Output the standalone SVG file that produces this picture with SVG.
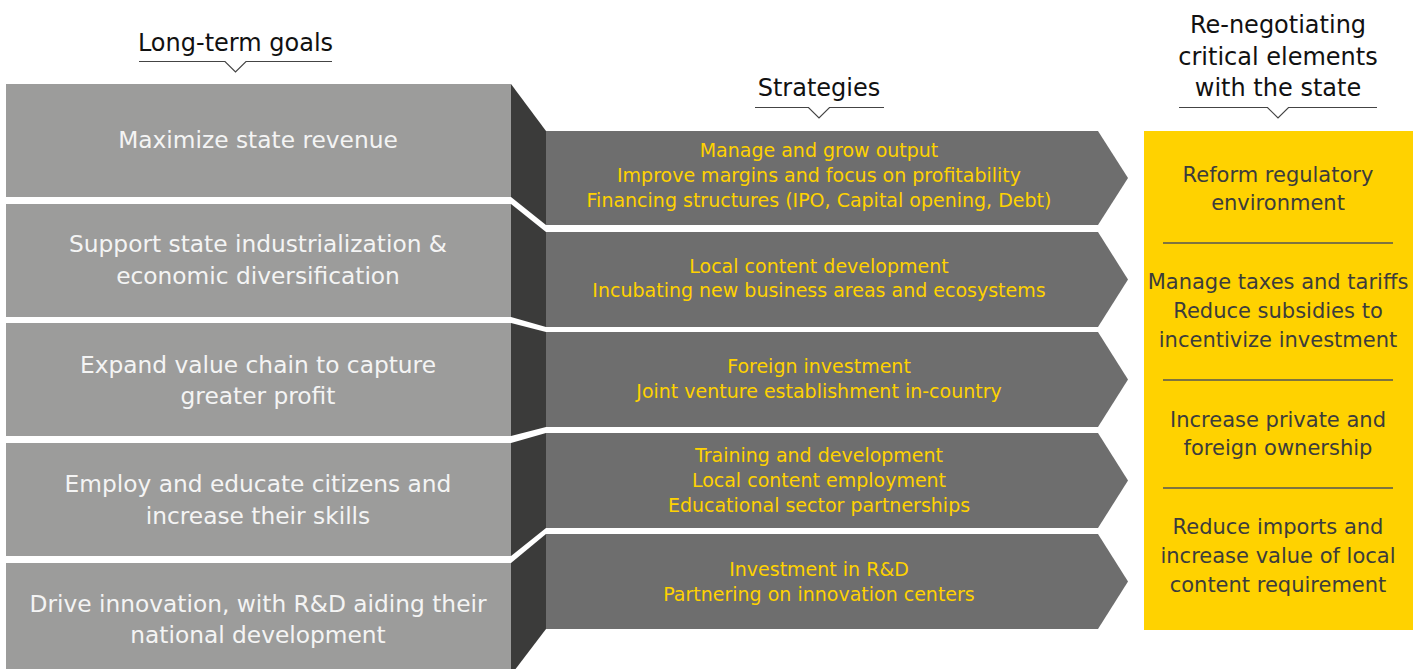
<svg xmlns="http://www.w3.org/2000/svg" width="1424" height="669" viewBox="0 0 1424 669">
<style>
text{font-family:"DejaVu Sans","Liberation Sans",sans-serif;text-anchor:middle}
.hdr{font-size:24px;fill:#111}
.ul{fill:none;stroke:#444;stroke-width:1.2}
.goal{fill:#9c9c9b}
.goal-t{font-size:23.3px;fill:#f4f4f4}
.wedge{fill:#3b3b3a}
.arrow{fill:#6e6e6e}
.strat-t{font-size:19px;fill:#ffd200}
.panel{fill:#ffd200}
.neg-t{font-size:21px;fill:#3c3c3c}
.sep{stroke:#555;stroke-width:1.4}
</style>
<rect width="1424" height="669" fill="#fff"/>
<g id="headers">
<text class="hdr" x="235.5" y="51">Long-term goals</text>
<path class="ul" d="M139,61.5H225L235.5,72L246,61.5H332"/>
<text class="hdr" x="819" y="95.5">Strategies</text>
<path class="ul" d="M755,107.5H808.5L819,118L829.5,107.5H884"/>
<text class="hdr" x="1278" y="33">Re-negotiating</text>
<text class="hdr" x="1278" y="64.5">critical elements</text>
<text class="hdr" x="1278" y="96">with the state</text>
<path class="ul" d="M1179,107.5H1267.5L1278,118L1288.5,107.5H1377"/>
</g>
<g id="connectors">
<polygon class="wedge" points="511,84 546,131 546,225 511,197"/>
<polygon class="wedge" points="511,204 546,232 546,327 511,317"/>
<polygon class="wedge" points="511,323 546,332 546,427 511,436"/>
<polygon class="wedge" points="511,443 546,433 546,528 511,556"/>
<polygon class="wedge" points="511,563 546,534 546,629 511,675"/>
</g>
<g id="goal1"><rect class="goal" x="6" y="84" width="505" height="113"/><text class="goal-t" x="258" y="148">Maximize state revenue</text></g>
<g id="goal2"><rect class="goal" x="6" y="204" width="505" height="113"/><text class="goal-t" x="258" y="252">Support state industrialization &amp;</text><text class="goal-t" x="258" y="284">economic diversification</text></g>
<g id="goal3"><rect class="goal" x="6" y="323" width="505" height="113"/><text class="goal-t" x="258" y="373">Expand value chain to capture</text><text class="goal-t" x="258" y="404">greater profit</text></g>
<g id="goal4"><rect class="goal" x="6" y="443" width="505" height="113"/><text class="goal-t" x="258" y="492">Employ and educate citizens and</text><text class="goal-t" x="258" y="524">increase their skills</text></g>
<g id="goal5"><rect class="goal" x="6" y="563" width="505" height="120"/><text class="goal-t" x="258" y="612">Drive innovation, with R&amp;D aiding their</text><text class="goal-t" x="258" y="643">national development</text></g>
<g id="strategy1"><polygon class="arrow" points="546,131 1098,131 1128,178 1098,225 546,225"/>
<text class="strat-t" x="819" y="157">Manage and grow output</text>
<text class="strat-t" x="819" y="182">Improve margins and focus on profitability</text>
<text class="strat-t" x="819" y="207">Financing structures (IPO, Capital opening, Debt)</text></g>
<g id="strategy2"><polygon class="arrow" points="546,232 1098,232 1128,279.5 1098,327 546,327"/>
<text class="strat-t" x="819" y="273">Local content development</text>
<text class="strat-t" x="819" y="297">Incubating new business areas and ecosystems</text></g>
<g id="strategy3"><polygon class="arrow" points="546,332 1098,332 1128,379.5 1098,427 546,427"/>
<text class="strat-t" x="819" y="373">Foreign investment</text>
<text class="strat-t" x="819" y="398">Joint venture establishment in-country</text></g>
<g id="strategy4"><polygon class="arrow" points="546,433 1098,433 1128,480.5 1098,528 546,528"/>
<text class="strat-t" x="819" y="462">Training and development</text>
<text class="strat-t" x="819" y="487">Local content employment</text>
<text class="strat-t" x="819" y="512">Educational sector partnerships</text></g>
<g id="strategy5"><polygon class="arrow" points="546,534 1098,534 1128,581.5 1098,629 546,629"/>
<text class="strat-t" x="819" y="576">Investment in R&amp;D</text>
<text class="strat-t" x="819" y="601">Partnering on innovation centers</text></g>
<g id="negotiation">
<rect class="panel" x="1144" y="131" width="269" height="499"/>
<text class="neg-t" x="1278" y="182">Reform regulatory</text>
<text class="neg-t" x="1278" y="210">environment</text>
<line class="sep" x1="1163" y1="243" x2="1393" y2="243"/>
<text class="neg-t" x="1278" y="289">Manage taxes and tariffs</text>
<text class="neg-t" x="1278" y="318">Reduce subsidies to</text>
<text class="neg-t" x="1278" y="347">incentivize investment</text>
<line class="sep" x1="1163" y1="380" x2="1393" y2="380"/>
<text class="neg-t" x="1278" y="427">Increase private and</text>
<text class="neg-t" x="1278" y="455">foreign ownership</text>
<line class="sep" x1="1163" y1="488" x2="1393" y2="488"/>
<text class="neg-t" x="1278" y="534">Reduce imports and</text>
<text class="neg-t" x="1278" y="563">increase value of local</text>
<text class="neg-t" x="1278" y="592">content requirement</text>
</g>
</svg>
